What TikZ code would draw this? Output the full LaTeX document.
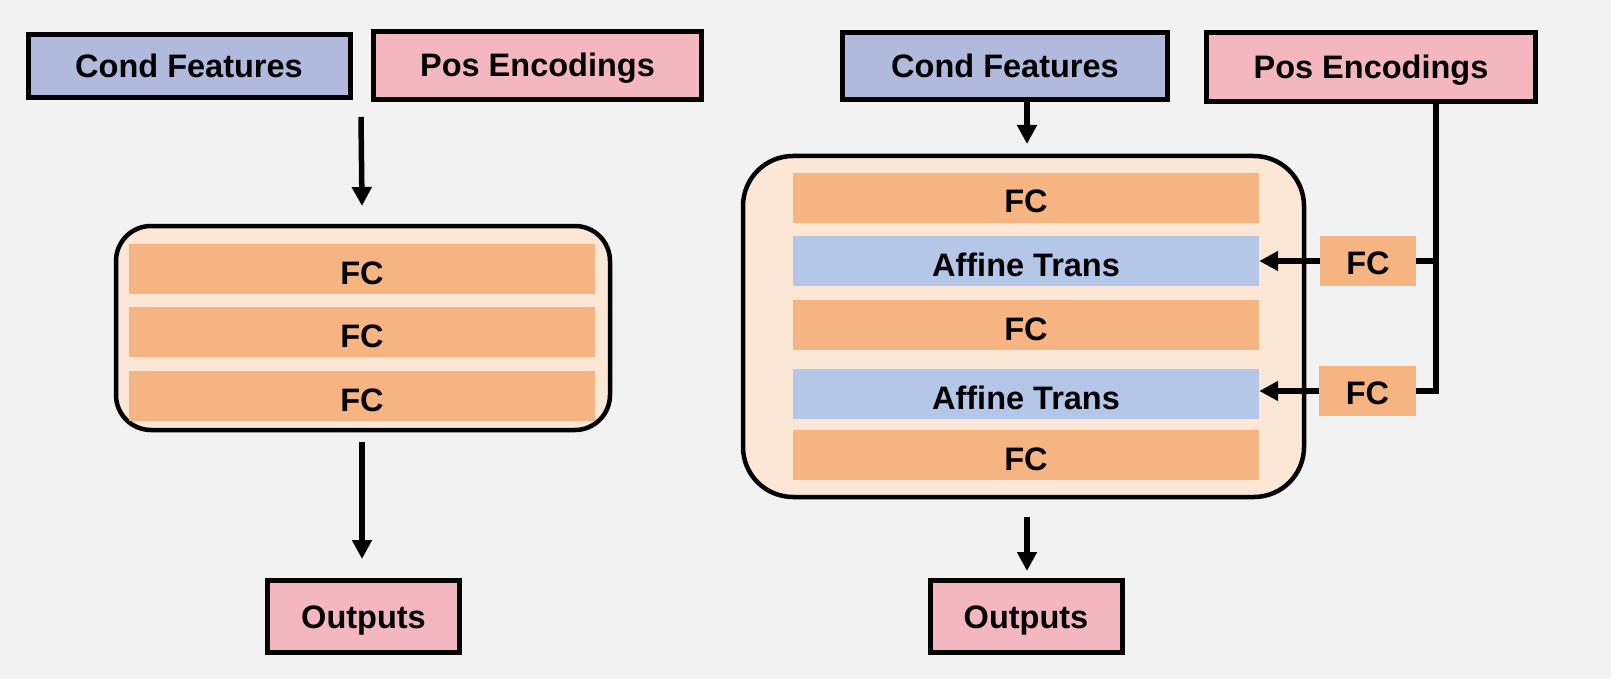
\documentclass[tikz,border=0pt]{standalone}
\usepackage{fontspec}
\setmainfont{Liberation Sans}
\usetikzlibrary{arrows.meta}
\definecolor{bggray}{HTML}{F2F2F2}
\definecolor{condblue}{HTML}{AFBADD}
\definecolor{pospink}{HTML}{F4B6BF}
\definecolor{shell}{HTML}{FCE7D6}
\definecolor{fcorange}{HTML}{F5B482}
\definecolor{affblue}{HTML}{B4C7E8}
\begin{document}
\begin{tikzpicture}[x=1pt, y=-1pt,
    every node/.style = {font = \fontsize{32.5}{38}\selectfont\bfseries, inner sep = 0pt, text height = 23pt, text depth = 0pt},
    inbox/.style = {draw, line width = 5pt},
    shellbox/.style = {draw, fill = shell, line width = 4.5pt},
    bar/.style = {minimum width = 466pt, minimum height = 49.5pt, text height = 30pt},
    fcbar/.style = {bar, fill = fcorange},
    affbar/.style = {bar, fill = affblue},
    flow/.style = {line width = 5.5pt, -{Triangle[width = 19pt, length = 19pt]}},
    wire/.style = {line width = 5.5pt}]
      \fill [bggray] (0, 0) rectangle (1611, 679);
      \useasboundingbox (0, 0) rectangle (1611, 679);

      \node [inbox, fill = condblue, minimum width = 322pt, minimum height = 63pt] (condL) at (189, 66) {Cond Features};
      \node [inbox, fill = pospink, minimum width = 328pt, minimum height = 68pt] (posL) at (537.5, 65.5) {Pos Encodings};
      \node [shellbox, rounded corners = 35pt, minimum width = 494pt, minimum height = 204pt] (shellL) at (363, 328) {};
      \node [fcbar] (fcL1) at (362, 269) {FC};
      \node [fcbar] (fcL2) at (362, 332) {FC};
      \node [fcbar] (fcL3) at (362, 396) {FC};
      \node [inbox, fill = pospink, minimum width = 192pt, minimum height = 72pt] (outL) at (363.5, 616.5) {Outputs};
      \coordinate (inL) at (361, 117);
      \coordinate (inL') at (362, 206);
      \coordinate (outLa) at (362, 442);
      \coordinate (outLb) at (362, 559);
      \draw [flow] (inL) -- (inL');
      \draw [flow] (outLa) -- (outLb);

      \node [inbox, fill = condblue, minimum width = 325pt, minimum height = 67pt] (condR) at (1005, 66) {Cond Features};
      \node [inbox, fill = pospink, minimum width = 329pt, minimum height = 69pt] (posR) at (1371, 67) {Pos Encodings};
      \node [shellbox, rounded corners = 50pt, minimum width = 561pt, minimum height = 341pt] (shellR) at (1023.5, 326.5) {};
      \node [fcbar] (fcR1) at (1026, 198) {FC};
      \node [affbar] (affR1) at (1026, 261) {Affine Trans};
      \node [fcbar] (fcR2) at (1026, 325) {FC};
      \node [affbar] (affR2) at (1026, 394) {Affine Trans};
      \node [fcbar] (fcR3) at (1026, 455) {FC};
      \node [fill = fcorange, minimum width = 96pt, minimum height = 50pt, text height = 27pt] (posfcA) at (1368, 261) {FC};
      \node [fill = fcorange, minimum width = 97pt, minimum height = 50pt, text height = 27pt] (posfcB) at (1367.5, 391) {FC};
      \node [inbox, fill = pospink, minimum width = 192pt, minimum height = 72pt] (outR) at (1026, 616.5) {Outputs};
      \coordinate (bus) at (1436, 0);
      \coordinate (inR) at (1027, 144);
      \coordinate (outRa) at (1027, 517);
      \coordinate (outRb) at (1027, 571);
      \draw [flow] (condR.south -| inR) -- (inR);
      \draw [flow] (outRa) -- (outRb);
      \draw [wire] (bus |- posR.south) -- (bus |- posfcB.east) -- (posfcB.east);
      \draw [wire] (posfcA.east) -- (bus |- posfcA.east);
      \draw [flow] (posfcA.west) -- (posfcA.west -| affR1.east);
      \draw [flow] (posfcB.west) -- (posfcB.west -| affR2.east);
\end{tikzpicture}
\end{document}
